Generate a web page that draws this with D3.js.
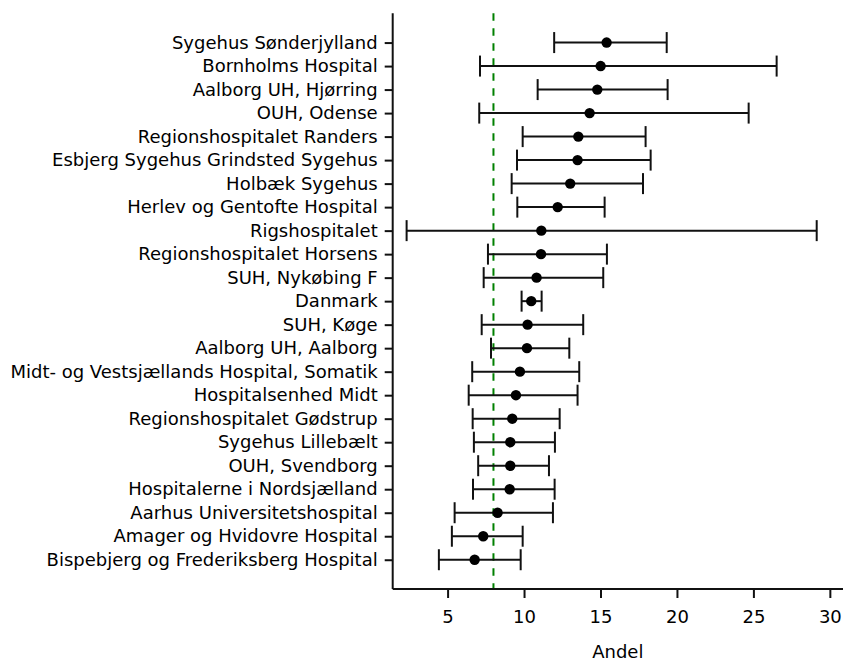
<!DOCTYPE html>
<html>
<head>
<meta charset="utf-8">
<script src="https://cdn.jsdelivr.net/npm/d3@7"></script>
<style>
  html, body { margin: 0; padding: 0; background: #fff; }
  svg { display: block; }
  text { font-family: "DejaVu Sans", sans-serif; }
</style>
</head>
<body>
<svg id="chart" width="845" height="661"></svg>
<script>
// ---- data (top to bottom) ----
const hospitals = [
  "Sygehus Sønderjylland",
  "Bornholms Hospital",
  "Aalborg UH, Hjørring",
  "OUH, Odense",
  "Regionshospitalet Randers",
  "Esbjerg Sygehus Grindsted Sygehus",
  "Holbæk Sygehus",
  "Herlev og Gentofte Hospital",
  "Rigshospitalet",
  "Regionshospitalet Horsens",
  "SUH, Nykøbing F",
  "Danmark",
  "SUH, Køge",
  "Aalborg UH, Aalborg",
  "Midt- og Vestsjællands Hospital, Somatik",
  "Hospitalsenhed Midt",
  "Regionshospitalet Gødstrup",
  "Sygehus Lillebælt",
  "OUH, Svendborg",
  "Hospitalerne i Nordsjælland",
  "Aarhus Universitetshospital",
  "Amager og Hvidovre Hospital",
  "Bispebjerg og Frederiksberg Hospital"
];
const andel = [15.40, 15.01, 14.79, 14.29, 13.55, 13.50, 13.02, 12.20, 11.13, 11.11, 10.82, 10.47, 10.23, 10.19, 9.73, 9.47, 9.23, 9.10, 9.10, 9.06, 8.27, 7.33, 6.77];
const lower = [11.97, 7.12, 10.89, 7.07, 9.91, 9.54, 9.19, 9.56, 2.32, 7.64, 7.36, 9.84, 7.23, 7.84, 6.61, 6.38, 6.64, 6.72, 7.00, 6.66, 5.46, 5.28, 4.43];
const upper = [19.33, 26.52, 19.39, 24.69, 17.95, 18.28, 17.78, 15.27, 29.14, 15.42, 15.18, 11.15, 13.87, 12.96, 13.61, 13.50, 12.33, 12.02, 11.63, 12.00, 11.89, 9.91, 9.78];
const xTicks = [5, 10, 15, 20, 25, 30];
const xDomain = [1.41, 30.86];
const refLine = 8;
const xLabel = "Andel";

// ---- layout ----
const svg = d3.select("#chart");
const plotL = 392.7, plotR = 843, plotT = 13.3, plotB = 589;
const fontSize = 18;
const ink = "#000";

const x = d3.scaleLinear().domain(xDomain).range([plotL, plotR]);
const y = d3.scalePoint().domain(hospitals).range([plotT, plotB]).padding(1.245);

const rows = hospitals.map((h, i) => ({ name: h, v: andel[i], lo: lower[i], hi: upper[i] }));

// reference line
svg.append("line")
  .attr("x1", x(refLine)).attr("x2", x(refLine))
  .attr("y1", plotT).attr("y2", plotB)
  .attr("stroke", "#008000").attr("stroke-width", 2)
  .attr("stroke-dasharray", "7.5,7.5");

// error bars
const capH = 10.5;
const g = svg.append("g");
const rowG = g.selectAll("g.row").data(rows).join("g").attr("class", "row");
rowG.append("line")
  .attr("x1", d => x(d.lo)).attr("x2", d => x(d.hi))
  .attr("y1", d => y(d.name)).attr("y2", d => y(d.name))
  .attr("stroke", "#111").attr("stroke-width", 2);
rowG.append("line")
  .attr("x1", d => x(d.lo)).attr("x2", d => x(d.lo))
  .attr("y1", d => y(d.name) - capH).attr("y2", d => y(d.name) + capH)
  .attr("stroke", "#111").attr("stroke-width", 2);
rowG.append("line")
  .attr("x1", d => x(d.hi)).attr("x2", d => x(d.hi))
  .attr("y1", d => y(d.name) - capH).attr("y2", d => y(d.name) + capH)
  .attr("stroke", "#111").attr("stroke-width", 2);
rowG.append("circle")
  .attr("cx", d => x(d.v)).attr("cy", d => y(d.name))
  .attr("r", 5.2).attr("fill", "#000");

// axes
const yAxis = d3.axisLeft(y).tickSize(8).tickPadding(7).tickSizeOuter(0);
const yg = svg.append("g").attr("transform", `translate(${plotL},0)`).call(yAxis);
const xAxis = d3.axisBottom(x).tickValues(xTicks).tickSize(9).tickPadding(12.5).tickSizeOuter(0);
const xg = svg.append("g").attr("transform", `translate(0,${plotB})`).call(xAxis);

[yg, xg].forEach(a => {
  a.select(".domain").attr("stroke", "#111").attr("stroke-width", 2);
  a.selectAll(".tick line").attr("stroke", "#111").attr("stroke-width", 2);
  a.selectAll(".tick text").attr("fill", ink).attr("font-size", fontSize)
    .attr("font-family", "DejaVu Sans, sans-serif");
});
yg.select(".domain").attr("d", `M0,${plotT}V${plotB}`);
xg.select(".domain").attr("d", `M${plotL},0H${plotR}`);

svg.append("text")
  .attr("x", (plotL + plotR) / 2).attr("y", 658)
  .attr("text-anchor", "middle")
  .attr("font-size", fontSize).attr("fill", ink)
  .text(xLabel);
</script>
</body>
</html>
